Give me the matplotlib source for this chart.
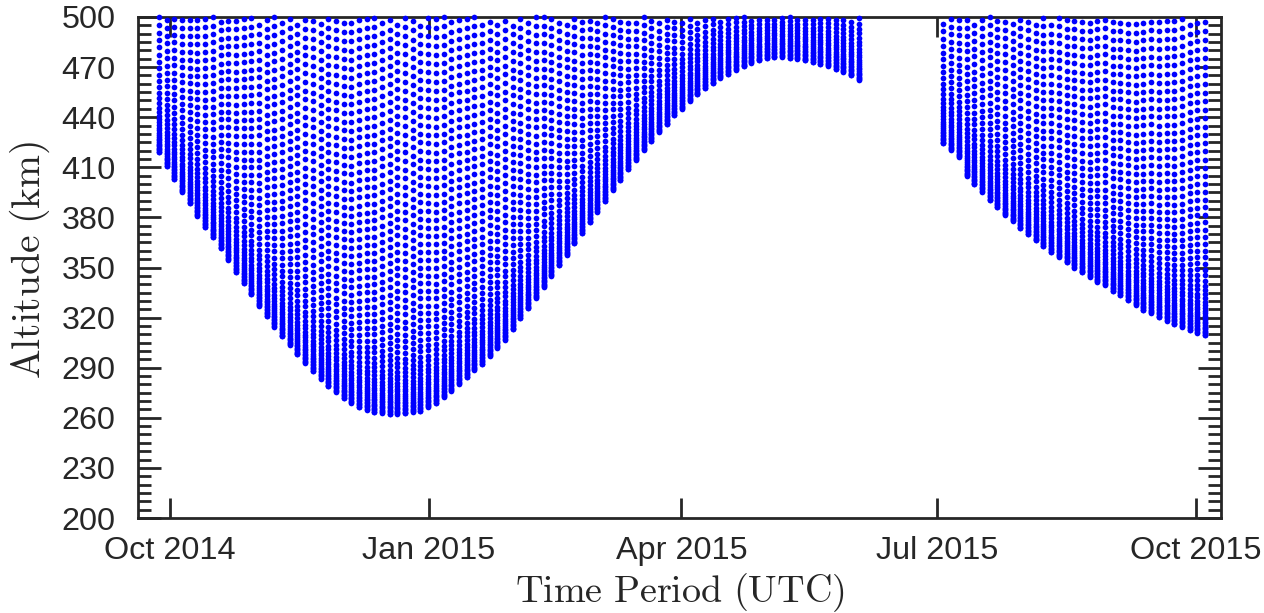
import numpy as np
import pandas as pd
import matplotlib
matplotlib.use("Agg")
import matplotlib.pyplot as plt
import matplotlib.dates as mdates
from matplotlib.ticker import MultipleLocator, FixedLocator

# ---------------- data ----------------
col_start = "2014-09-27 02:00"      # first sampling column
col_step_days = 2.737               # spacing between columns
seg1_first_index = 0
seg2_first_index = 102

# lowest altitude (km) of each column, segment 1 (Sep 2014 - Jun 2015)
seg1_min_alt = [
    419.3, 410.5, 403.0, 395.0, 388.5, 381.0, 374.5, 368.0, 361.5, 354.5,
    347.5, 340.5, 334.0, 327.0, 321.0, 314.5, 309.0, 303.5, 298.0, 293.0,
    288.0, 283.5, 279.0, 275.5, 272.0, 269.0, 266.5, 264.8, 263.5, 262.8,
    262.4, 262.3, 262.6, 263.2, 264.2, 266.3, 269.0, 272.5, 276.3, 280.2,
    284.5, 288.5, 292.5, 297.0, 302.0, 306.8, 313.0, 319.5, 325.5, 331.8,
    338.5, 345.0, 351.5, 357.5, 364.5, 370.5, 377.0, 383.5, 390.0, 396.3,
    402.5, 408.8, 414.5, 420.3, 425.8, 431.0, 436.0, 441.2, 445.2, 449.5,
    453.6, 457.2, 460.4, 463.4, 465.8, 468.2, 470.4, 472.3, 474.0, 475.2,
    475.8, 476.0, 475.5, 475.0, 474.0, 472.9, 471.8, 470.5, 469.0, 467.2,
    465.0, 462.3,
]
# lowest altitude (km) of each column, segment 2 (Jul 2015 - Oct 2015)
seg2_min_alt = [
    424.6, 420.4, 416.4, 404.5, 400.0, 395.5, 390.5, 386.0, 381.7, 377.6,
    373.6, 369.8, 366.2, 362.7, 359.3, 356.1, 353.0, 350.0, 347.1, 344.3,
    341.6, 339.5, 336.0, 333.3, 330.5, 327.5, 324.5, 322.6, 320.2, 318.2,
    316.2, 314.6, 312.6, 311.0, 309.6,
]
# altitudes of the samples above a column's lowest point (km)
dot_offsets_km = [
    0, 0.8, 1.6, 2.4, 3.2, 4.0, 4.9, 5.8, 6.8, 7.8, 8.9, 10.1, 11.4, 12.8,
    14.3, 15.9, 17.7, 19.6, 21.7, 24.0, 26.5, 29.2, 32.1, 35.3, 38.7, 42.3,
    46.1, 50.0, 54.0, 58.2, 62.5, 66.9, 71.4, 76.0, 80.6, 85.3, 90.0, 94.8,
    99.6, 104.5, 109.4, 114.3, 119.3, 124.3, 129.3, 134.4, 139.5, 144.6,
    149.8, 155.0, 160.2, 165.4, 170.7, 176.0, 181.3, 186.6, 192.0, 197.4,
    202.8, 208.2, 213.6, 219.1, 224.6, 230.1, 235.6, 241.1,
]
phase_cycle = [0.0, 0.5, 0.25, 0.75, 0.1, 0.6]

tick_dates = ["2014-10-01", "2015-01-01", "2015-04-01", "2015-07-01", "2015-10-01"]
tick_labels = ["Oct 2014", "Jan 2015", "Apr 2015", "Jul 2015", "Oct 2015"]
y_ticks = [200, 230, 260, 290, 320, 350, 380, 410, 440, 470, 500]
x_range = ["2014-09-19 12:00", "2015-10-09 22:00"]
y_range = [200, 500]

# ---------------- build points ----------------
base = np.array(dot_offsets_km, dtype=float)
step = np.diff(base, append=base[-1] + (base[-1] - base[-2]))
start = pd.Timestamp(col_start)

xs, ys = [], []
for first, mins in ((seg1_first_index, seg1_min_alt), (seg2_first_index, seg2_min_alt)):
    for j, m in enumerate(mins):
        k = first + j
        t = start + pd.Timedelta(days=k * col_step_days)
        ph = phase_cycle[k % len(phase_cycle)]
        offs = np.concatenate(([0.0], base + ph * step))
        alts = m + offs
        alts = alts[alts <= y_range[1]]
        xs.extend([mdates.date2num(t)] * len(alts))
        ys.extend(alts.tolist())

# ---------------- figure ----------------
plt.rcParams["mathtext.fontset"] = "cm"
dark = "#262626"

fig = plt.figure(figsize=(12.64, 6.13), dpi=100)
ax = fig.add_axes([137.7 / 1264, 95 / 613, (1220.7 - 137.7) / 1264, 501 / 613])

ax.plot(xs, ys, linestyle="none", marker="o", color="#0000ff",
        markersize=4.1, markeredgewidth=0, clip_on=False, zorder=3)

ax.set_xlim(mdates.date2num(pd.Timestamp(x_range[0])), mdates.date2num(pd.Timestamp(x_range[1])))
ax.set_ylim(*y_range)

ax.xaxis.set_major_locator(FixedLocator([mdates.date2num(pd.Timestamp(d)) for d in tick_dates]))
ax.set_xticklabels(tick_labels)
ax.set_yticks(y_ticks)
ax.yaxis.set_minor_locator(MultipleLocator(5))

for s in ax.spines.values():
    s.set_linewidth(2.0)
    s.set_color(dark)

ax.tick_params(axis="both", which="both", direction="in", colors=dark,
               top=True, right=True, width=2.0)
ax.tick_params(axis="x", which="major", length=14.5, pad=13)
ax.tick_params(axis="y", which="major", length=16.5, pad=16)
ax.tick_params(axis="y", which="minor", length=9.4)
for lab in ax.get_xticklabels() + ax.get_yticklabels():
    lab.set_fontfamily("Liberation Sans")
    lab.set_fontsize(23.3)
    lab.set_color(dark)

ax.set_xlabel(r"$\mathrm{Time\ Period\ (UTC)}$", fontsize=27.5, color=dark)
ax.set_ylabel(r"$\mathrm{Altitude\ (km)}$", fontsize=28.5, color=dark)
ax.xaxis.set_label_coords(0.5007, -0.106)
ax.yaxis.set_label_coords(-0.0795, 0.516)

fig.savefig("out.png", dpi=100)
